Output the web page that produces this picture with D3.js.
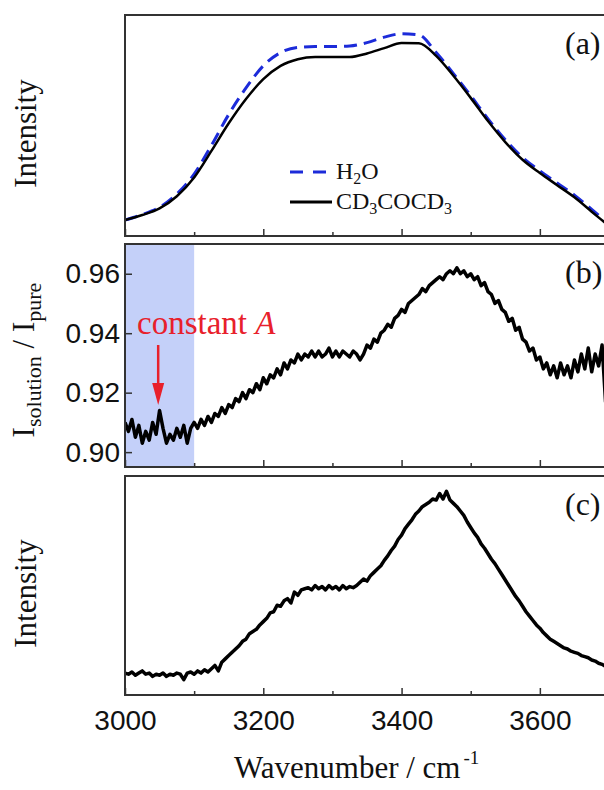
<!DOCTYPE html>
<html lang="en">

<head>
  <title></title>
  <meta charset="UTF-8">
  <script src="https://cdn.jsdelivr.net/npm/d3@7"></script>
  <style>
    body {
      margin: 0;
      background: #fff;
    }
  </style>
</head>

<body>
  <div id="container"></div>
  <script>
    // panel (a) - smooth spectra, 25 cm-1 step
    const waveA = d3.range(3000, 3701, 25);
    const h2o = [0.072, 0.097, 0.13, 0.19, 0.28, 0.41, 0.55, 0.67, 0.77, 0.83, 0.853, 0.857, 0.857, 0.86, 0.875,
      0.9, 0.915, 0.91, 0.83, 0.735, 0.635, 0.53, 0.435, 0.355, 0.295, 0.24, 0.185, 0.12, 0.055];
    const acetone = [0.072, 0.095, 0.125, 0.18, 0.265, 0.385, 0.51, 0.62, 0.71, 0.77, 0.8, 0.81, 0.81, 0.81, 0.826,
      0.85, 0.873, 0.872, 0.815, 0.725, 0.625, 0.52, 0.425, 0.345, 0.285, 0.23, 0.175, 0.11, 0.045];

    // panel (b) and (c) - noisy data, 5 cm-1 step
    const waveB = d3.range(3000, 3701, 5);
    const ratio = [
      0.910, 0.907, 0.911, 0.905, 0.909, 0.903, 0.907, 0.904, 0.910, 0.906,
      0.914, 0.908, 0.903, 0.906, 0.904, 0.908, 0.905, 0.909, 0.903, 0.908,
      0.910, 0.908, 0.911, 0.909, 0.912, 0.910, 0.913, 0.912, 0.915, 0.913,
      0.916, 0.915, 0.918, 0.917, 0.920, 0.918, 0.921, 0.920, 0.923, 0.921,
      0.925, 0.923, 0.926, 0.925, 0.928, 0.926, 0.930, 0.928, 0.931, 0.930,
      0.933, 0.931, 0.933, 0.932, 0.934, 0.932, 0.934, 0.932, 0.933, 0.935,
      0.932, 0.934, 0.932, 0.934, 0.933, 0.932, 0.934, 0.933, 0.931, 0.933,
      0.936, 0.935, 0.938, 0.937, 0.940, 0.941, 0.943, 0.942, 0.945, 0.946,
      0.948, 0.947, 0.950, 0.951, 0.952, 0.953, 0.955, 0.954, 0.956, 0.957,
      0.958, 0.959, 0.958, 0.960, 0.961, 0.960, 0.962, 0.960, 0.961, 0.959,
      0.960, 0.958, 0.959, 0.956, 0.957, 0.954, 0.953, 0.950, 0.951, 0.948,
      0.947, 0.944, 0.945, 0.941, 0.942, 0.938, 0.937, 0.934, 0.935, 0.931,
      0.932, 0.928, 0.930, 0.926, 0.929, 0.925, 0.930, 0.926, 0.929, 0.925,
      0.931, 0.927, 0.933, 0.928, 0.935, 0.927, 0.933, 0.929, 0.936, 0.917,
      0.931
    ];
    const diff = [
      0.10, 0.095, 0.105, 0.09, 0.10, 0.11, 0.095, 0.10, 0.085, 0.095,
      0.09, 0.10, 0.085, 0.095, 0.09, 0.10, 0.095, 0.07, 0.10, 0.105,
      0.095, 0.11, 0.10, 0.115, 0.105, 0.12, 0.135, 0.11, 0.15, 0.165,
      0.18, 0.195, 0.21, 0.225, 0.245, 0.255, 0.28, 0.29, 0.30, 0.32,
      0.335, 0.35, 0.375, 0.38, 0.41, 0.405, 0.43, 0.44, 0.42, 0.47,
      0.455, 0.48, 0.485, 0.49, 0.48, 0.50, 0.485, 0.495, 0.48, 0.50,
      0.485, 0.495, 0.48, 0.50, 0.485, 0.495, 0.49, 0.50, 0.515, 0.53,
      0.52, 0.545, 0.56, 0.575, 0.59, 0.615, 0.635, 0.66, 0.68, 0.71,
      0.73, 0.76, 0.78, 0.80, 0.825, 0.84, 0.86, 0.87, 0.88, 0.895,
      0.89, 0.92, 0.895, 0.93, 0.89, 0.875, 0.86, 0.84, 0.82, 0.79,
      0.765, 0.74, 0.72, 0.69, 0.67, 0.645, 0.62, 0.60, 0.575, 0.55,
      0.525, 0.50, 0.475, 0.45, 0.43, 0.405, 0.38, 0.36, 0.34, 0.32,
      0.305, 0.285, 0.27, 0.255, 0.245, 0.235, 0.225, 0.215, 0.21, 0.20,
      0.195, 0.19, 0.18, 0.175, 0.17, 0.16, 0.155, 0.145, 0.14, 0.13,
      0.12
    ];

    const majorTicks = [3000, 3200, 3400, 3600];
    const minorTicks = [3100, 3300, 3500, 3700];
    const ratioTicks = [0.90, 0.92, 0.94, 0.96];
    const shadeRange = [3000, 3100];
    const arrowAt = 3048;

    const width = 604, height = 790;
    const sans = '"Liberation Sans", Arial, sans-serif';
    const serif = '"Liberation Serif", "Times New Roman", serif';

    const x = d3.scaleLinear().domain([3000, 3700]).range([125, 609]);
    const panels = [
      { top: 15, bottom: 236, domain: [0, 1], label: '(a)' },
      { top: 244, bottom: 467, domain: [0.895, 0.97], label: '(b)' },
      { top: 476, bottom: 695, domain: [0, 1], label: '(c)' }
    ];
    panels.forEach(p => {
      p.y = d3.scaleLinear().domain(p.domain).range([p.bottom, p.top]);
    });

    const svg = d3.select('#container')
      .append('svg')
      .attr('width', width)
      .attr('height', height);

    svg.append('defs').selectAll('clipPath')
      .data(panels)
      .join('clipPath')
      .attr('id', (d, i) => 'clip' + i)
      .append('rect')
      .attr('x', x.range()[0])
      .attr('y', d => d.top)
      .attr('width', x.range()[1] - x.range()[0])
      .attr('height', d => d.bottom - d.top);

    // shaded region in (b)
    const pb = panels[1];
    svg.append('rect')
      .attr('x', x(shadeRange[0]))
      .attr('y', pb.top)
      .attr('width', x(shadeRange[1]) - x(shadeRange[0]))
      .attr('height', pb.bottom - pb.top)
      .style('fill', '#c4d0f9');

    function lineFor(p, xs) {
      return d3.line()
        .x((d, i) => x(xs[i]))
        .y(d => p.y(d));
    }

    // curves
    const pa = panels[0], pc = panels[2];
    svg.append('path')
      .attr('clip-path', 'url(#clip0)')
      .attr('d', lineFor(pa, waveA).curve(d3.curveMonotoneX)(h2o))
      .style('fill', 'none')
      .style('stroke', '#1c2bd9')
      .style('stroke-width', 3)
      .style('stroke-dasharray', '13,7');
    svg.append('path')
      .attr('clip-path', 'url(#clip0)')
      .attr('d', lineFor(pa, waveA).curve(d3.curveMonotoneX)(acetone))
      .style('fill', 'none')
      .style('stroke', '#000')
      .style('stroke-width', 2.5);
    svg.append('path')
      .attr('clip-path', 'url(#clip1)')
      .attr('d', lineFor(pb, waveB)(ratio))
      .style('fill', 'none')
      .style('stroke', '#000')
      .style('stroke-width', 3.5)
      .style('stroke-linejoin', 'round');
    svg.append('path')
      .attr('clip-path', 'url(#clip2)')
      .attr('d', lineFor(pc, waveB)(diff))
      .style('fill', 'none')
      .style('stroke', '#000')
      .style('stroke-width', 3.5)
      .style('stroke-linejoin', 'round');

    // frames and axes
    panels.forEach((p, i) => {
      svg.append('rect')
        .attr('x', x.range()[0])
        .attr('y', p.top)
        .attr('width', x.range()[1] - x.range()[0])
        .attr('height', p.bottom - p.top)
        .style('fill', 'none')
        .style('stroke', '#333')
        .style('stroke-width', 2);

      const major = svg.append('g')
        .attr('transform', 'translate(0,' + p.bottom + ')')
        .call(d3.axisBottom(x).tickValues(majorTicks).tickSize(-7).tickPadding(15)
          .tickFormat(i === 2 ? d3.format('d') : () => ''));
      const minor = svg.append('g')
        .attr('transform', 'translate(0,' + p.bottom + ')')
        .call(d3.axisBottom(x).tickValues(minorTicks).tickSize(-4).tickFormat(() => ''));
      [major, minor].forEach(g => {
        g.select('.domain').remove();
        g.selectAll('line').style('stroke', '#333').style('stroke-width', 1.5);
        g.selectAll('text').style('font-family', sans).style('font-size', '28px').style('fill', '#111');
      });

      svg.append('text')
        .attr('x', 565)
        .attr('y', p.top + 39)
        .style('font-family', serif)
        .style('font-size', '32px')
        .style('fill', '#111')
        .text(p.label);
    });

    // y axis of (b)
    const yAxis = svg.append('g')
      .attr('transform', 'translate(' + x.range()[0] + ',0)')
      .call(d3.axisLeft(pb.y).tickValues(ratioTicks).tickSize(-7).tickPadding(5).tickFormat(d3.format('.2f')));
    yAxis.select('.domain').remove();
    yAxis.selectAll('line').style('stroke', '#333').style('stroke-width', 1.5);
    yAxis.selectAll('text').style('font-family', sans).style('font-size', '28px').style('fill', '#111');

    // y labels
    [pa, pc].forEach(p => {
      svg.append('text')
        .attr('transform', 'translate(36,' + ((p.top + p.bottom) / 2 + 8) + ') rotate(-90)')
        .attr('text-anchor', 'middle')
        .style('font-family', serif)
        .style('font-size', '31px')
        .style('fill', '#111')
        .text('Intensity');
    });
    const yl = svg.append('text')
      .attr('transform', 'translate(34,360) rotate(-90)')
      .attr('text-anchor', 'middle')
      .style('font-family', serif)
      .style('font-size', '31px')
      .style('fill', '#111');
    yl.append('tspan').text('I');
    yl.append('tspan').attr('dy', 7).style('font-size', '22px').text('solution');
    yl.append('tspan').attr('dy', -7).text(' / I');
    yl.append('tspan').attr('dy', 7).style('font-size', '22px').text('pure');

    // x label
    const xl = svg.append('text')
      .attr('x', 234)
      .attr('y', 778)
      .style('font-family', serif)
      .style('font-size', '31px')
      .style('fill', '#111');
    xl.append('tspan').text('Wavenumber / cm');
    xl.append('tspan').attr('dx', 3).attr('dy', -14).style('font-size', '19px').text('-1');

    // legend
    const legend = [
      { name: 'H', sub: '2', tail: 'O', color: '#1c2bd9', dash: '13,10', y: 172 },
      { name: 'CD', sub: '3', tail: 'COCD', sub2: '3', color: '#000', dash: null, y: 202 }
    ];
    legend.forEach(d => {
      svg.append('line')
        .attr('x1', 290).attr('x2', 332)
        .attr('y1', d.y).attr('y2', d.y)
        .style('stroke', d.color)
        .style('stroke-width', 3)
        .style('stroke-dasharray', d.dash);
      const t = svg.append('text')
        .attr('x', 336)
        .attr('y', d.y + 7)
        .style('font-family', serif)
        .style('font-size', '24px')
        .style('fill', '#111');
      t.append('tspan').text(d.name);
      t.append('tspan').attr('dy', 5).style('font-size', '16px').text(d.sub);
      t.append('tspan').attr('dy', -5).text(d.tail);
      if (d.sub2) t.append('tspan').attr('dy', 5).style('font-size', '16px').text(d.sub2);
    });

    // constant A annotation
    const red = '#e8202b';
    const ann = svg.append('text')
      .attr('x', 137)
      .attr('y', 334)
      .style('font-family', serif)
      .style('font-size', '33px')
      .style('fill', red);
    ann.append('tspan').text('constant ');
    ann.append('tspan').style('font-style', 'italic').text('A');
    const ax = x(arrowAt);
    svg.append('line')
      .attr('x1', ax).attr('x2', ax)
      .attr('y1', 345).attr('y2', 386)
      .style('stroke', red)
      .style('stroke-width', 2.5);
    svg.append('path')
      .attr('d', d3.line()([[ax - 6, 383], [ax + 6, 383], [ax, 405]]))
      .style('fill', red);
  </script>
</body>

</html>
